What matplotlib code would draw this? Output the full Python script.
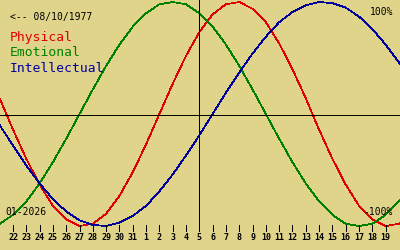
import matplotlib
matplotlib.use("Agg")
import matplotlib.pyplot as plt
import numpy as np

# biorhythm chart, birth 08/10/1977, month 01-2026, today = 5
birth = "<-- 08/10/1977"
month = "01-2026"
today_label = 5

# day labels along the bottom (22 Dec .. 19 Jan)
day_labels = [22, 23, 24, 25, 26, 27, 28, 29, 30, 31,
              1, 2, 3, 4, 5, 6, 7, 8, 9, 10, 11, 12, 13, 14, 15, 16, 17, 18, 19]

# curve values per day (21 Dec .. 20 Jan, -1..1)
physical = [0.14, -0.14, -0.40, -0.63, -0.82, -0.94, -1.00, -0.98, -0.89, -0.73,
            -0.52, -0.27, 0.00, 0.27, 0.52, 0.73, 0.89, 0.98, 1.00, 0.94,
            0.82, 0.63, 0.40, 0.14, -0.14, -0.40, -0.63, -0.82, -0.94, -1.00,
            -0.98, -0.89]
emotional = [-0.98, -0.90, -0.78, -0.62, -0.43, -0.22, 0.00, 0.22, 0.43, 0.62,
             0.78, 0.90, 0.98, 1.00, 0.98, 0.90, 0.78, 0.62, 0.43, 0.22,
             0.00, -0.22, -0.43, -0.62, -0.78, -0.90, -0.98, -1.00, -0.98, -0.90,
             -0.78, -0.62]
intellectual = [-0.10, -0.28, -0.46, -0.62, -0.76, -0.87, -0.95, -0.99, -1.00, -0.97,
                -0.91, -0.82, -0.69, -0.54, -0.37, -0.19, 0.00, 0.19, 0.37, 0.54,
                0.69, 0.82, 0.91, 0.97, 1.00, 0.99, 0.95, 0.87, 0.76, 0.62,
                0.46, 0.28]

bg = "#e0d48a"
red = "#e00000"
green = "#008000"
blue = "#0000a0"
mono = "DejaVu Sans Mono"
px = 0.72  # one pixel at 100 dpi

fig = plt.figure(figsize=(4, 2.5), dpi=100, facecolor=bg)
ax = fig.add_axes([0, 0, 1, 1])
ax.set_facecolor(bg)
ax.axis("off")

x_days = np.arange(len(physical)) - 1
ax.plot(x_days, physical, color=red, lw=0.55, antialiased=False)
ax.plot(x_days, emotional, color=green, lw=0.55, antialiased=False)
ax.plot(x_days, intellectual, color=blue, lw=0.55, antialiased=False)

ax.set_xlim(-0.977, 29.08)
ax.set_ylim(1.018 - 250 / 112, 1.018)

# zero line and today line
ax.axhline(-0.01, color="black", lw=px, antialiased=False)
today_x = day_labels.index(today_label, 10)
trans = ax.get_xaxis_transform()
ax.plot([today_x, today_x], [0.088, 1.0], color="black", lw=px,
        antialiased=False, transform=trans)

# day ticks
for i, d in enumerate(day_labels):
    ax.plot([i, i], [0.078, 0.1], color="black", lw=px, antialiased=False, transform=trans)
    ax.text(i, 0.048, str(d), transform=trans, ha="center", va="center",
            fontsize=6, family=mono, fontweight="bold", color="black")

# texts
ax.text(10 / 400, 1 - 17 / 250, birth, transform=ax.transAxes, fontsize=7,
        family=mono, va="center", ha="left")
ax.text(10 / 400, 1 - 38 / 250, "Physical", transform=ax.transAxes, fontsize=9.4,
        family=mono, va="center", ha="left", color=red)
ax.text(10 / 400, 1 - 53 / 250, "Emotional", transform=ax.transAxes, fontsize=9.4,
        family=mono, va="center", ha="left", color=green)
ax.text(10 / 400, 1 - 68 / 250, "Intellectual", transform=ax.transAxes, fontsize=9.4,
        family=mono, va="center", ha="left", color=blue)
ax.text(393 / 400, 1 - 12 / 250, "100%", transform=ax.transAxes, fontsize=7,
        family=mono, va="center", ha="right")
ax.text(393 / 400, 1 - 212 / 250, "-100%", transform=ax.transAxes, fontsize=7,
        family=mono, va="center", ha="right")
ax.text(5 / 400, 1 - 212 / 250, month, transform=ax.transAxes, fontsize=7,
        family=mono, va="center", ha="left")

fig.savefig("out.png", dpi=100, facecolor=bg)
